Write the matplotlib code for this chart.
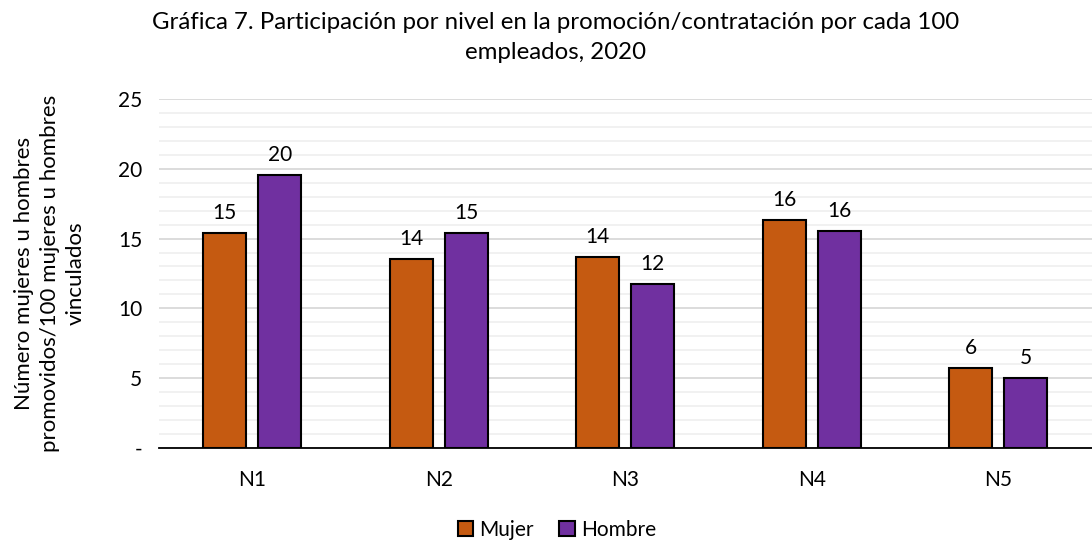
import matplotlib
matplotlib.use("Agg")
import matplotlib.pyplot as plt
import matplotlib.ticker as mtick
import numpy as np

ORANGE = "#C55A11"
PURPLE = "#7030A0"
GRID = "#D9D9D9"

niveles = ["N1", "N2", "N3", "N4", "N5"]
mujer = [15.4, 13.55, 13.7, 16.35, 5.75]
hombre = [19.55, 15.4, 11.75, 15.55, 5.0]
etiquetas_mujer = ["15", "14", "14", "16", "6"]
etiquetas_hombre = ["20", "15", "12", "16", "5"]

plt.rcParams["font.family"] = ["Lato", "DejaVu Sans"]

fig = plt.figure(figsize=(10.92, 5.41), dpi=100)
ax = fig.add_axes([0.1456, 0.172, 0.854, 0.645])

x = np.arange(len(niveles))
w = 0.23
off = 0.147
b1 = ax.bar(x - off, mujer, w, color=ORANGE, edgecolor="black", linewidth=1.5, label="Mujer", zorder=3)
b2 = ax.bar(x + off, hombre, w, color=PURPLE, edgecolor="black", linewidth=1.5, label="Hombre", zorder=3)

for bars, labs in ((b1, etiquetas_mujer), (b2, etiquetas_hombre)):
    for rect, lab in zip(bars, labs):
        ax.annotate(lab, (rect.get_x() + rect.get_width() / 2, rect.get_height()),
                    xytext=(0, 7), textcoords="offset points", ha="center", va="bottom",
                    fontsize=15)

ax.set_xlim(-0.5, len(niveles) - 0.5)
ax.set_ylim(0, 25)
ax.set_xticks(x)
ax.set_xticklabels(niveles, fontsize=15)
ax.set_yticks([0, 5, 10, 15, 20, 25])
ax.yaxis.set_major_formatter(mtick.FuncFormatter(lambda v, p: "-" if v == 0 else f"{v:.0f}"))
ax.yaxis.set_minor_locator(mtick.MultipleLocator(1))
ax.tick_params(axis="y", labelsize=15, length=0, pad=12, which="both")
ax.tick_params(axis="x", length=0, pad=16)
ax.grid(axis="y", which="major", color=GRID, linewidth=1.3, zorder=0)
ax.grid(axis="y", which="minor", color="#EDEDED", linewidth=1.1, zorder=0)
for s in ("top", "right", "left"):
    ax.spines[s].set_visible(False)
ax.spines["bottom"].set_linewidth(1.3)
ax.spines["bottom"].set_zorder(4)

ax.set_ylabel("Número mujeres u hombres\npromovidos/100 mujeres u hombres\nvinculados",
              fontsize=16, linespacing=1.38, labelpad=23)
fig.suptitle("Gráfica 7. Participación por nivel en la promoción/contratación por cada 100\nempleados, 2020",
             fontsize=17.3, y=0.978, x=0.509, linespacing=1.55)

fig.legend(handles=[b1, b2], loc="lower center", ncol=2, frameon=False, fontsize=15,
           bbox_to_anchor=(0.51, -0.032), handlelength=0.75, handleheight=0.75,
           handletextpad=0.3, columnspacing=1.2)

fig.savefig("out.png", dpi=100)
